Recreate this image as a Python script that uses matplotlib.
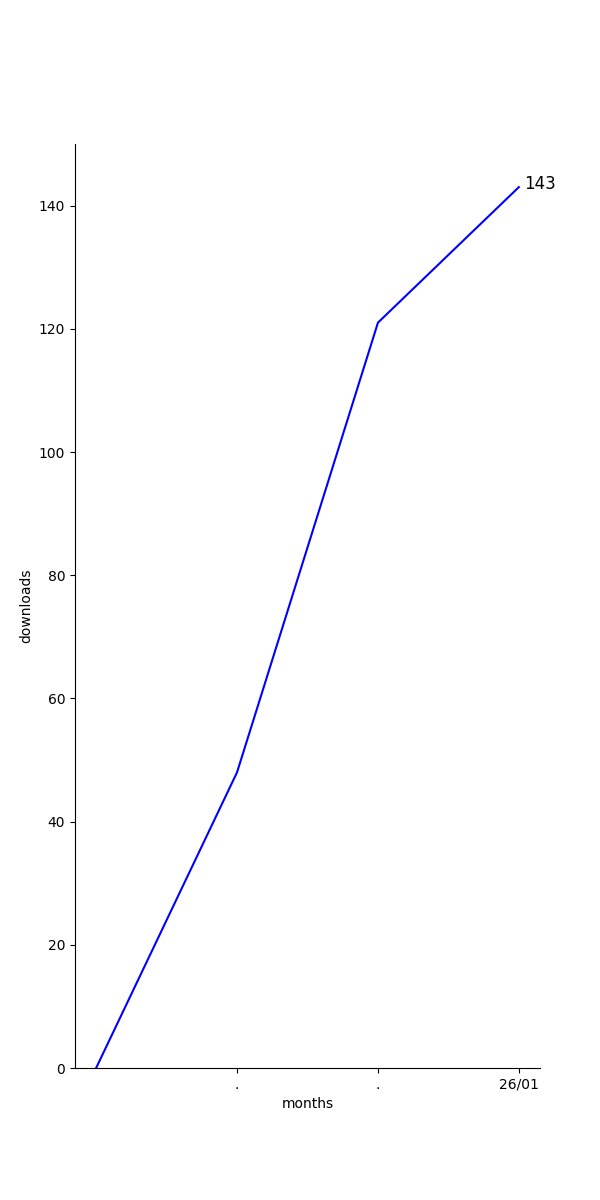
import matplotlib
matplotlib.use("Agg")
import matplotlib.pyplot as plt

x_vals = [0, 1, 2, 3]
downloads = [0, 48, 121, 143]
tick_positions = [1, 2, 3]
tick_labels = [".", ".", "26/01"]

fig, ax = plt.subplots(figsize=(6, 12), dpi=100)
ax.plot(x_vals, downloads, color="blue")
ax.set_xticks(tick_positions)
ax.set_xticklabels(tick_labels)
ax.set_ylim(0, 150)
ax.set_xlabel("months")
ax.set_ylabel("downloads")
ax.spines["top"].set_visible(False)
ax.spines["right"].set_visible(False)
ax.annotate(str(downloads[-1]), xy=(x_vals[-1], downloads[-1]),
            xytext=(4, -1.5), textcoords="offset points", fontsize=12)
fig.savefig("out.png")
